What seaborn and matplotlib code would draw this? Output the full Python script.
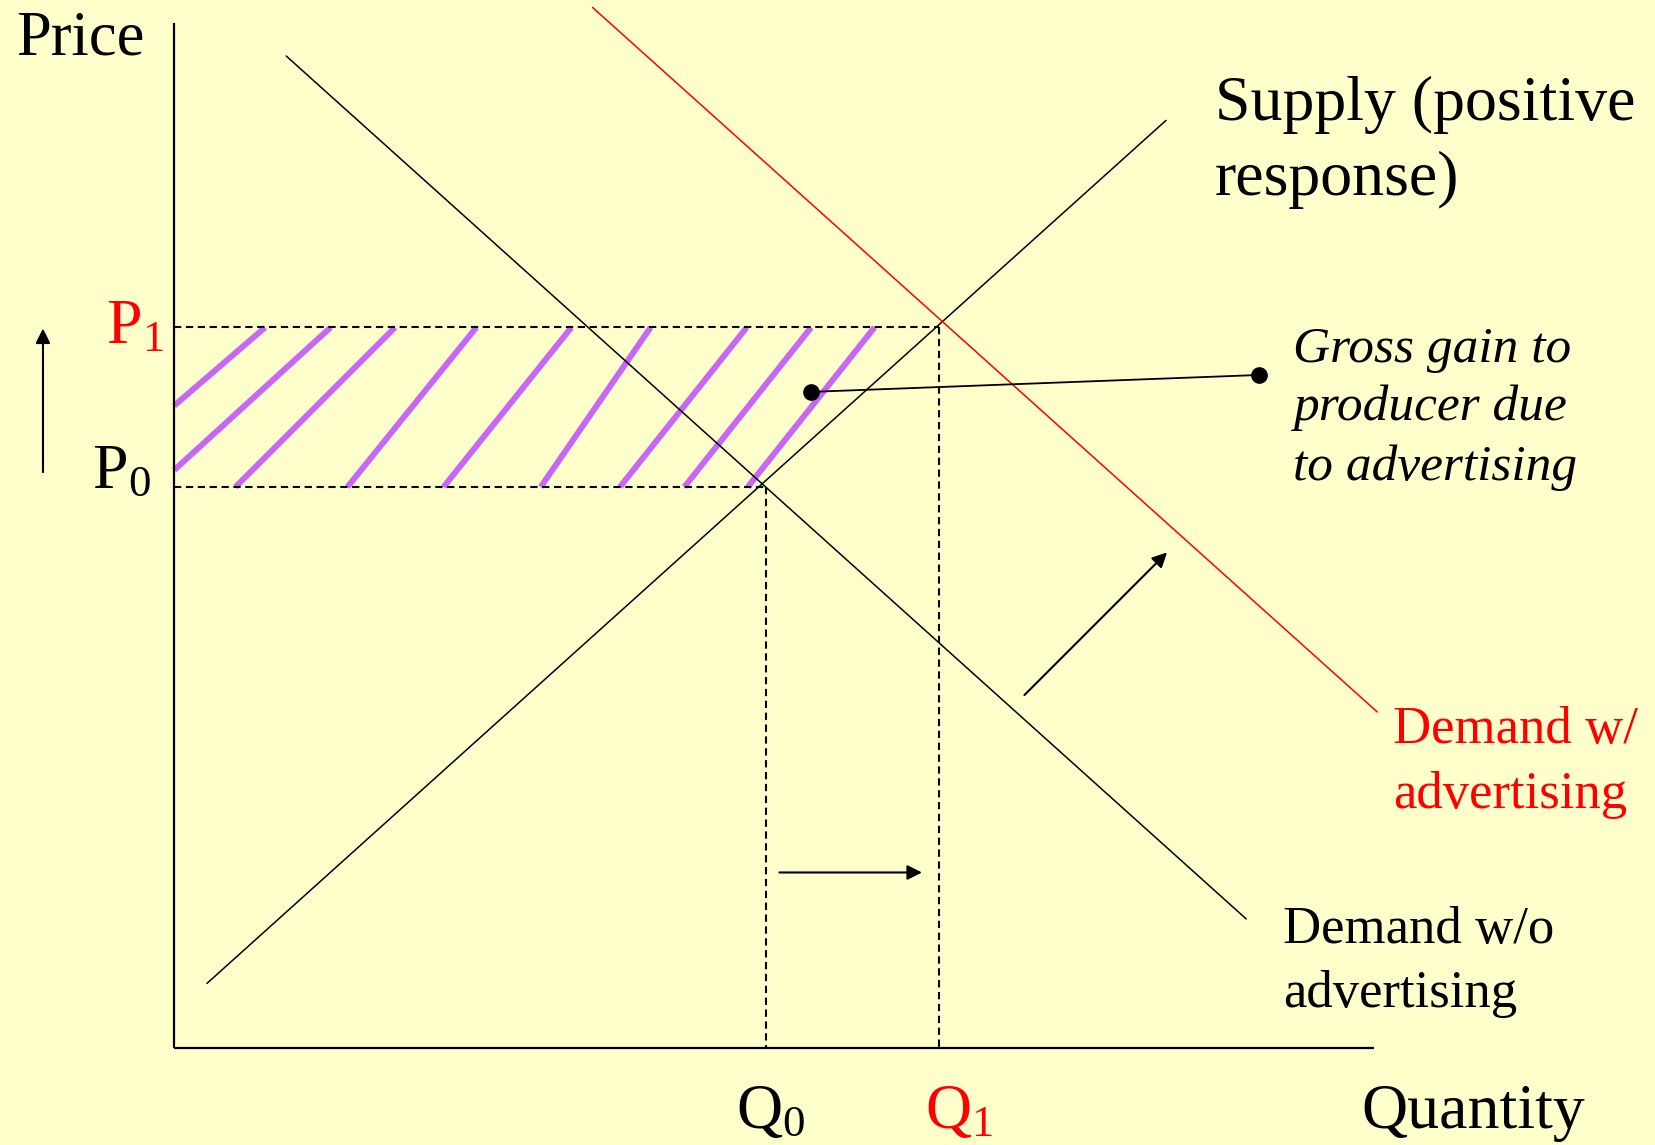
import numpy as np
import pandas as pd
import matplotlib.pyplot as plt
import seaborn as sns

# end points of the three curves (quantity, price)
demand_q = [1.06, 10.15]
demand_p = [9.39, 1.22]
demand_adv_q = [3.96, 11.39]
demand_adv_p = [9.85, 3.18]
supply_q = [0.31, 9.39]
supply_p = [0.61, 8.78]

# equilibria
q0, q1 = 5.60, 7.24
p0, p1 = 5.31, 6.82

# purple strokes in the gain area
hatch_q_lo = [0.0, 0.0, 0.58, 1.64, 2.55, 3.47, 4.22, 4.83, 5.43]
hatch_p_lo = [6.08, 5.47, 5.31, 5.31, 5.31, 5.31, 5.31, 5.31, 5.31]
hatch_q_hi = [0.86, 1.48, 2.09, 2.86, 3.76, 4.51, 5.42, 6.03, 6.63]
hatch_p_hi = [6.82, 6.82, 6.82, 6.82, 6.82, 6.82, 6.82, 6.82, 6.82]

q_axis_end = 11.36
p_axis_end = 9.70

supply_label = ["Supply (positive", "response)"]
gain_label = ["Gross gain to", "producer due", "to advertising"]
demand_adv_label = ["Demand w/", "advertising"]
demand_label = ["Demand w/o", "advertising"]

bg = "#FFFFCC"
purple = "#C866F6"

sns.set_theme(style="white")
plt.rcParams['font.family'] = ['Liberation Serif', 'DejaVu Serif']
plt.rcParams['mathtext.default'] = 'regular'
plt.rcParams['text.color'] = 'black'

fig = plt.figure(figsize=(16.56, 11.45), dpi=100, facecolor=bg)
ax = fig.add_axes([0, 0, 1, 1])
ax.set_facecolor(bg)
ax.set_xlim(-1.65, 14.03)
ax.set_ylim(-0.92, 9.92)
ax.axis('off')

# hatch strokes
for i in range(len(hatch_q_lo)):
    sns.lineplot(x=[hatch_q_lo[i], hatch_q_hi[i]], y=[hatch_p_lo[i], hatch_p_hi[i]],
                 ax=ax, color=purple, lw=4.3, sort=False, estimator=None,
                 solid_capstyle='butt')

# dashed guide lines
dash = (0, (3.5, 2.2))
ax.plot([0, q1], [p1, p1], color='black', lw=1.5, ls=dash)
ax.plot([0, q0], [p0, p0], color='black', lw=1.5, ls=dash)
ax.plot([q0, q0], [p0, 0], color='black', lw=1.5, ls=dash)
ax.plot([q1, q1], [p1, 0], color='black', lw=1.5, ls=dash)

# curves
sns.lineplot(x=demand_q, y=demand_p, ax=ax, color='black', lw=1.1, sort=False, estimator=None)
sns.lineplot(x=supply_q, y=supply_p, ax=ax, color='black', lw=1.1, sort=False, estimator=None)
sns.lineplot(x=demand_adv_q, y=demand_adv_p, ax=ax, color='red', lw=1.1, sort=False, estimator=None)

# axes
ax.plot([0, 0], [0, p_axis_end], color='black', lw=1.6, solid_capstyle='butt')
ax.plot([0, q_axis_end], [0, 0], color='black', lw=1.6, solid_capstyle='butt')

# pointer to the gain area
ax.plot([6.03, 10.27], [6.21, 6.37], color='black', lw=1.3, marker='o', ms=11)

# shift arrows
arr = dict(arrowstyle='-|>', color='black', lw=1.5, mutation_scale=22, shrinkA=0, shrinkB=0)
ax.annotate('', xy=(-1.243, 6.81), xytext=(-1.243, 5.45), arrowprops=arr)
ax.annotate('', xy=(9.40, 4.69), xytext=(8.05, 3.34), arrowprops=arr)
ax.annotate('', xy=(7.08, 1.66), xytext=(5.73, 1.66), arrowprops=arr)

# text
big = 46
ax.text(-1.50, 9.40, "Price", fontsize=45, va='baseline', ha='left')
ax.text(11.24, -0.76, "Quantity", fontsize=big, va='baseline', ha='left')
ax.text(5.32, -0.76, "Q$_0$", fontsize=big, va='baseline', ha='left')
ax.text(7.11, -0.76, "Q$_1$", fontsize=big, va='baseline', ha='left', color='red')
ax.text(-0.10, 6.67, "P$_1$", fontsize=big, va='baseline', ha='right', color='red')
ax.text(-0.22, 5.30, "P$_0$", fontsize=big, va='baseline', ha='right')

for line, y in zip(supply_label, [8.784, 8.074]):
    ax.text(9.855, y, line, fontsize=46, va='baseline', ha='left')
for line, y in zip(gain_label, [6.495, 5.943, 5.375]):
    ax.text(10.59, y, line, fontsize=37, va='baseline', ha='left', style='italic')
for line, y in zip(demand_adv_label, [2.884, 2.27]):
    ax.text(11.54, y, line, fontsize=38, va='baseline', ha='left', color='red')
for line, y in zip(demand_label, [0.99, 0.385]):
    ax.text(10.50, y, line, fontsize=38, va='baseline', ha='left')

plt.savefig('out.png', dpi=100, facecolor=bg)
